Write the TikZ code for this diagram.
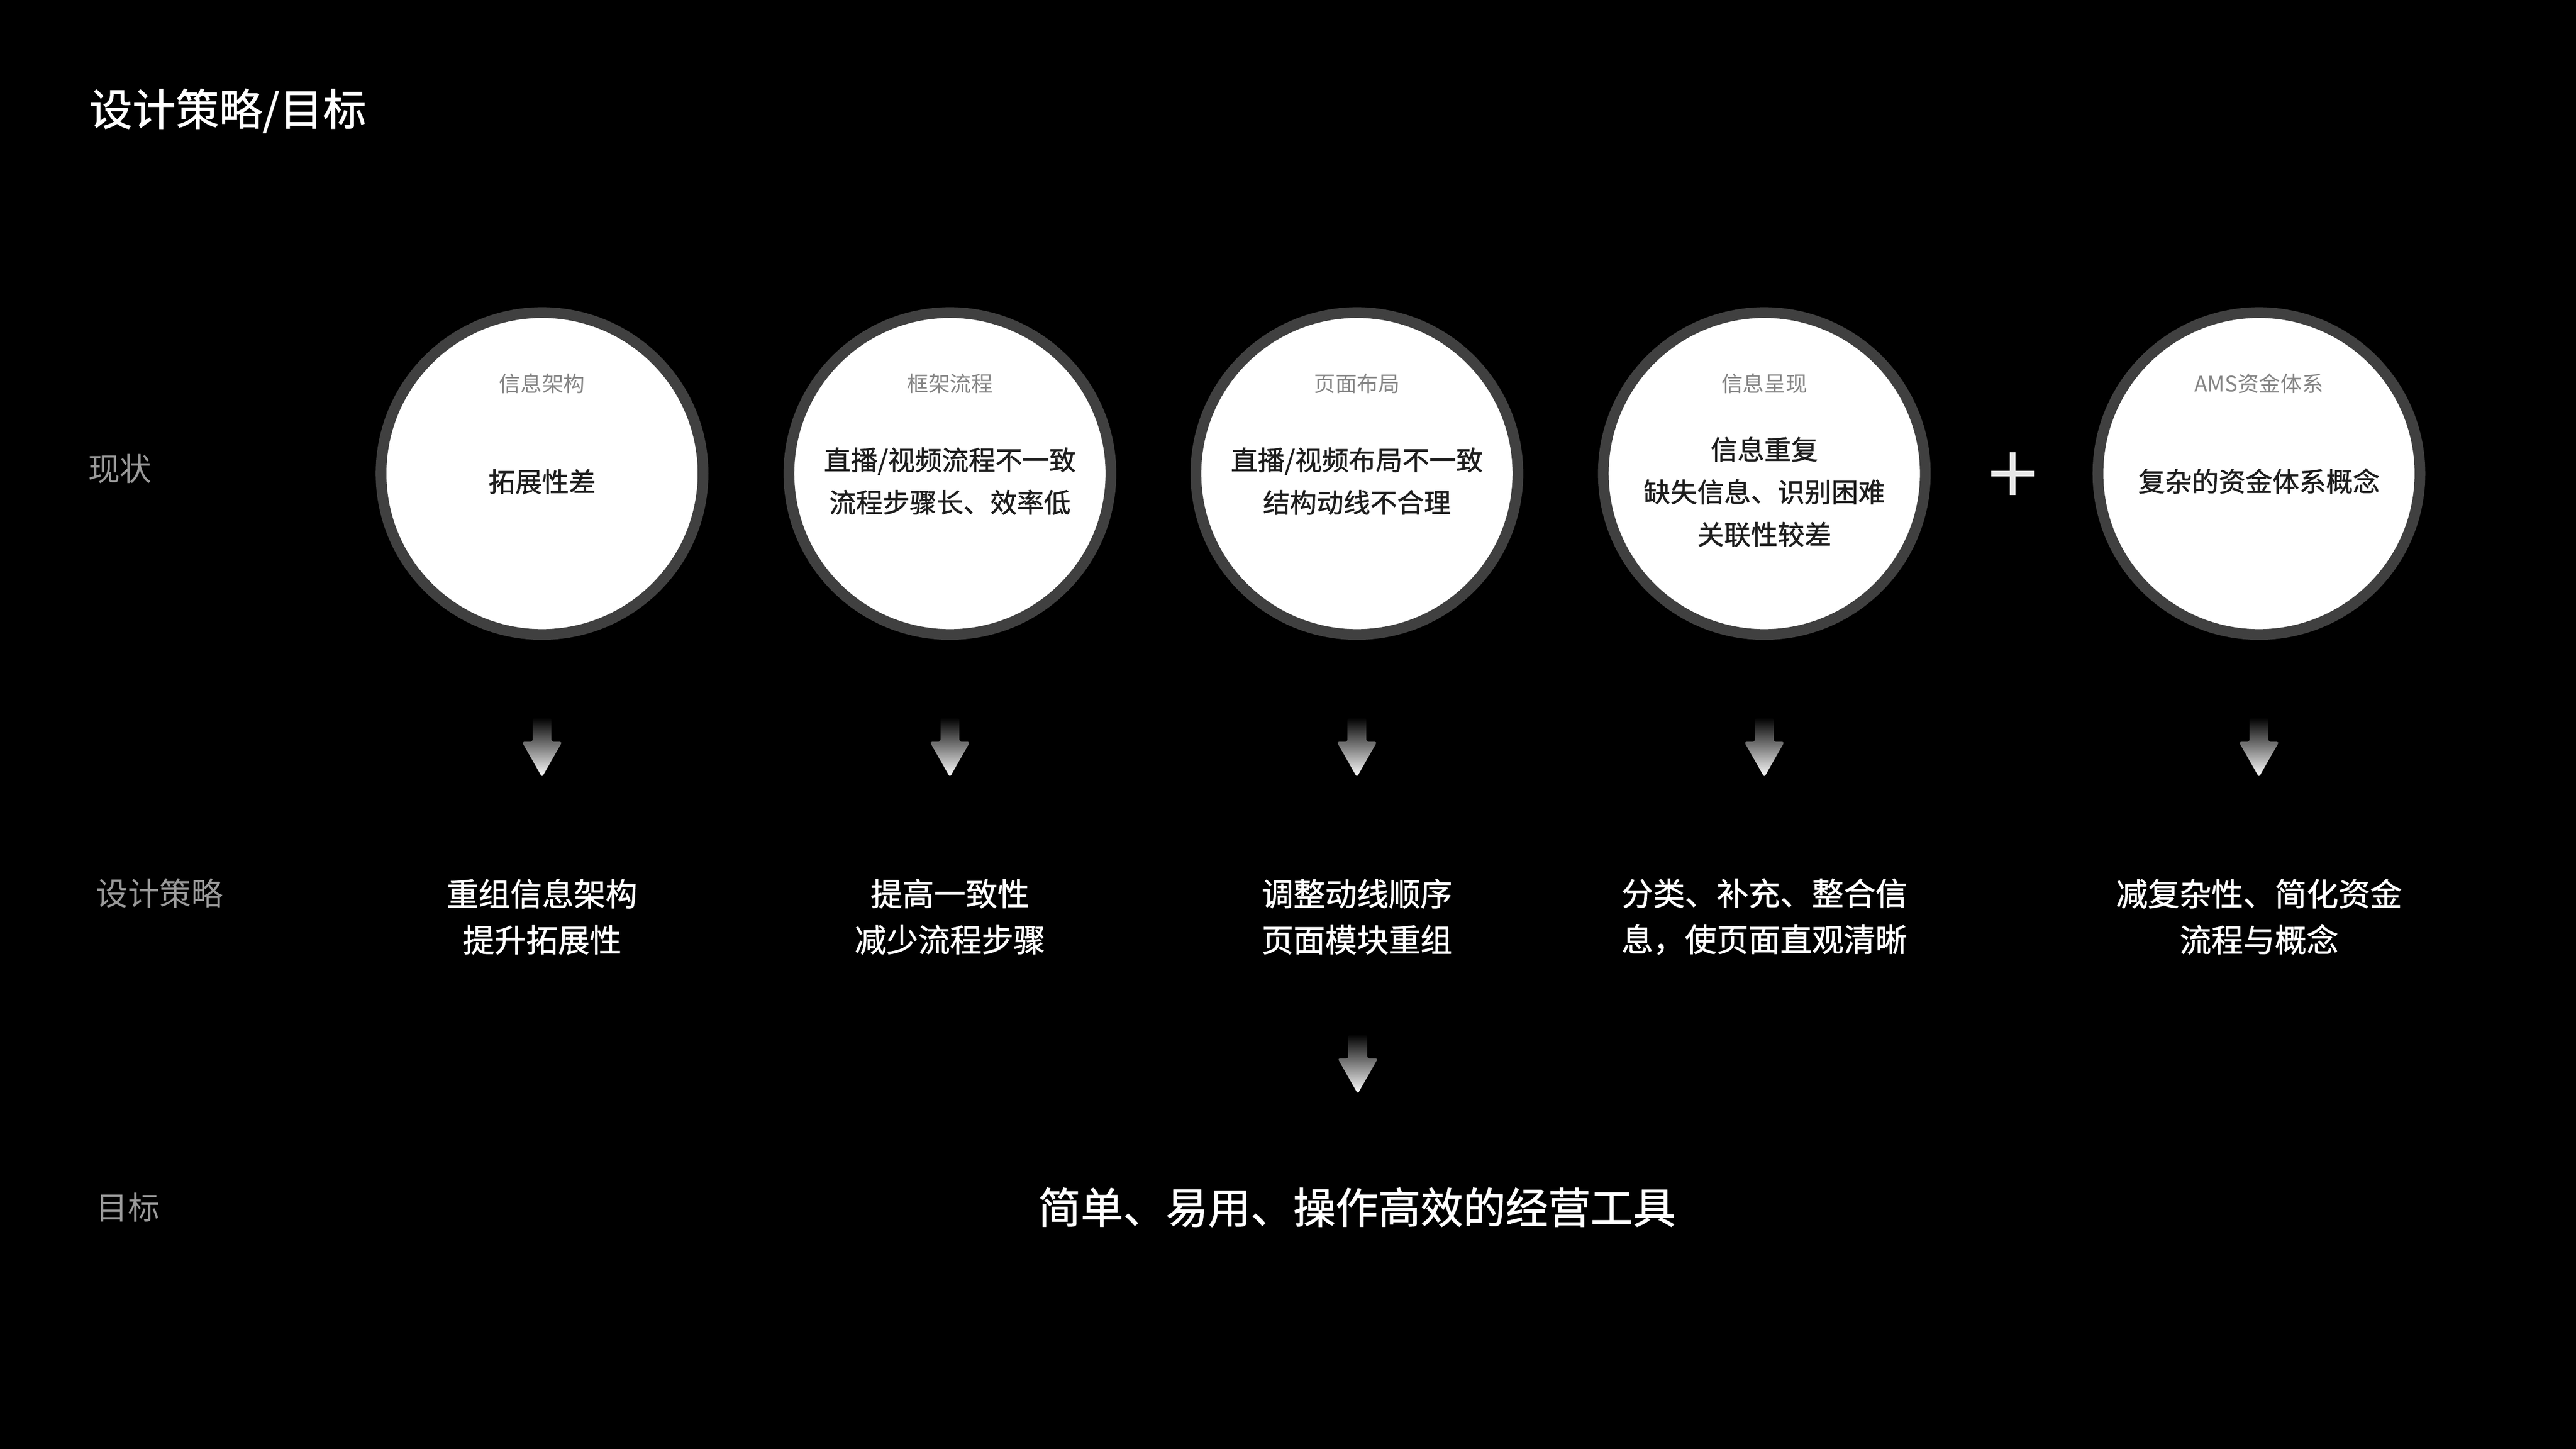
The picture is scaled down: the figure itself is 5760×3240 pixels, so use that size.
\documentclass[tikz,border=0pt]{standalone}
\usepackage{fontspec}
\setmainfont{Noto Sans CJK SC}
\newfontfamily\cjkmed[FakeBold=1.2]{Noto Sans CJK SC}
\definecolor{ringc}{HTML}{404040}
\definecolor{rowc}{HTML}{9A9A9A}
\definecolor{clblc}{HTML}{858585}
\definecolor{ctextc}{HTML}{1E1E1E}
\definecolor{plusc}{HTML}{E6E6E6}
\tikzset{
  ringnode/.style={circle, minimum size=72pt, inner sep=0pt, draw=ringc, line width=2.4pt, fill=white},
  circlbl/.style={inner sep=0pt, text=clblc, font=\fontsize{4.8pt}{6pt}\selectfont},
  cirtext/.style={inner sep=0pt, text=ctextc, align=center, font=\cjkmed\fontsize{6pt}{9.5pt}\selectfont},
  rowlbl/.style={inner sep=0pt, anchor=west, text=rowc, font=\fontsize{7.1pt}{9pt}\selectfont},
  strat/.style={inner sep=0pt, text=white, align=center, font=\cjkmed\fontsize{7.1pt}{10.3pt}\selectfont},
  pics/downarrow/.style={code={
    \shade[top color=black, bottom color=white, rounded corners=0.5pt]
      (-21,-67) -- (21,-67) -- (21,-13) -- (45,-13) -- (0,66) -- (-45,-13) -- (-21,-13) -- cycle;
  }}
}
\begin{document}
\begin{tikzpicture}[x=0.1pt, y=-0.1pt]
\fill[black] (0,0) rectangle (5760,3240);
\useasboundingbox (0,0) rectangle (5760,3240);

% title
\node[inner sep=0pt, anchor=west, text=white, font=\cjkmed\fontsize{9.7pt}{11pt}\selectfont] (title) at (197,248) {设计策略/目标};

% row labels
\node[rowlbl] (rowA) at (195,1048) {现状};
\node[rowlbl] (rowB) at (213,1998) {设计策略};
\node[rowlbl] (rowC) at (213,2700) {目标};

% circles
\node[ringnode] (c1) at (1212,1059) {};
\node[ringnode] (c2) at (2124,1059) {};
\node[ringnode] (c3) at (3034,1059) {};
\node[ringnode] (c4) at (3945,1059) {};
\node[ringnode] (c5) at (5051,1059) {};

\node[circlbl] (l1) at (1212,858) {信息架构};
\node[circlbl] (l2) at (2124,858) {框架流程};
\node[circlbl] (l3) at (3034,858) {页面布局};
\node[circlbl] (l4) at (3945,858) {信息呈现};
\node[circlbl] (l5) at (5051,858) {AMS资金体系};

\node[cirtext] (t1) at (1212,1077) {拓展性差};
\node[cirtext] (t2) at (2124,1076) {直播/视频流程不一致\\流程步骤长、效率低};
\node[cirtext] (t3) at (3034,1076) {直播/视频布局不一致\\结构动线不合理};
\node[cirtext] (t4) at (3945,1100) {信息重复\\缺失信息、识别困难\\关联性较差};
\node[cirtext] (t5) at (5051,1076) {复杂的资金体系概念};

% plus
\coordinate (pc) at (4500,1059);
\draw[plusc, line width=1.2pt] ([xshift=-4.8pt]pc) -- ([xshift=4.8pt]pc);
\draw[plusc, line width=1.2pt] ([yshift=-4.8pt]pc) -- ([yshift=4.8pt]pc);

% arrows
\pic at (1212,1672) {downarrow};
\pic at (2124,1672) {downarrow};
\pic at (3034,1672) {downarrow};
\pic at (3945,1672) {downarrow};
\pic at (5051,1672) {downarrow};
\pic at (3036,2380) {downarrow};

% strategies
\node[strat] (s1) at (1212,2050) {重组信息架构\\提升拓展性};
\node[strat] (s2) at (2124,2050) {提高一致性\\减少流程步骤};
\node[strat] (s3) at (3034,2050) {调整动线顺序\\页面模块重组};
\node[strat] (s4) at (3945,2050) {分类、补充、整合信\\息，使页面直观清晰};
\node[strat] (s5) at (5051,2050) {减复杂性、简化资金\\流程与概念};

% goal
\node[inner sep=0pt, text=white, font=\cjkmed\fontsize{9.5pt}{11pt}\selectfont] (goal) at (3034,2700) {简单、易用、操作高效的经营工具};
\end{tikzpicture}
\end{document}
